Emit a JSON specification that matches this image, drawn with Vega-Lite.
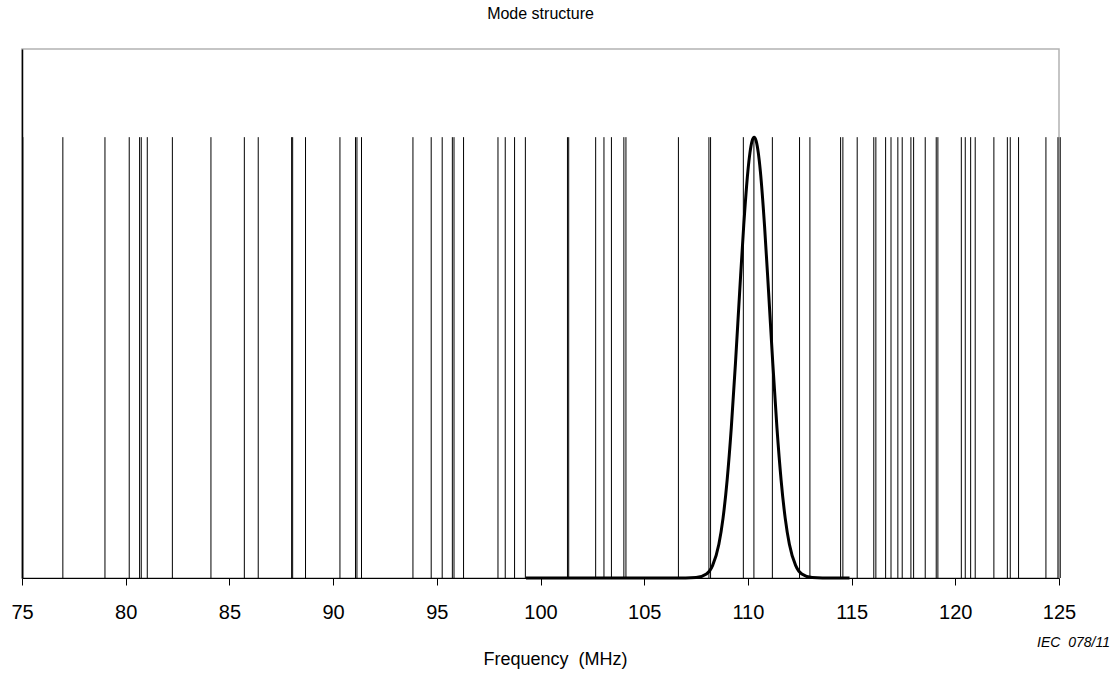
{
  "$schema": "https://vega.github.io/schema/vega-lite/v6.json",
  "width": 1037,
  "height": 529,
  "autosize": "none",
  "padding": {"left": 22, "top": 49, "right": 54, "bottom": 95},
  "background": "white",
  "title": {"text": "Mode structure", "fontSize": 16, "font": "Liberation Sans", "fontWeight": "normal", "color": "black", "offset": 27, "anchor": "middle"},
  "config": {
    "view": {"stroke": "#b3b3b3", "strokeWidth": 1.5},
    "font": "Liberation Sans"
  },
  "datasets": {
    "modes": [
      {"f": 75.04}, {"f": 76.97}, {"f": 79.0}, {"f": 80.17}, {"f": 80.67}, {"f": 80.75}, {"f": 81.04}, {"f": 82.25},
      {"f": 84.11}, {"f": 85.72}, {"f": 86.39}, {"f": 88.0}, {"f": 88.05}, {"f": 88.67}, {"f": 90.33}, {"f": 91.08},
      {"f": 91.15}, {"f": 91.37}, {"f": 93.85}, {"f": 94.73}, {"f": 95.26}, {"f": 95.75}, {"f": 95.83}, {"f": 96.29},
      {"f": 97.95}, {"f": 98.3}, {"f": 98.75}, {"f": 99.27}, {"f": 101.3}, {"f": 101.36}, {"f": 102.66}, {"f": 103.06},
      {"f": 103.42}, {"f": 104.02}, {"f": 104.12}, {"f": 106.65}, {"f": 108.12}, {"f": 108.2}, {"f": 109.78}, {"f": 110.29},
      {"f": 111.18}, {"f": 112.49}, {"f": 112.99}, {"f": 114.47}, {"f": 114.58}, {"f": 115.27}, {"f": 116.07}, {"f": 116.17},
      {"f": 116.64}, {"f": 116.9}, {"f": 117.23}, {"f": 117.44}, {"f": 117.86}, {"f": 117.99}, {"f": 118.55}, {"f": 119.08},
      {"f": 119.16}, {"f": 120.29}, {"f": 120.48}, {"f": 120.74}, {"f": 120.96}, {"f": 121.86}, {"f": 122.51}, {"f": 122.65},
      {"f": 123.05}, {"f": 124.37}, {"f": 124.95}, {"f": 125.06}
    ],
    "gain": [
      {"f": 99.3, "g": 0}, {"f": 103.0, "g": 0}, {"f": 105.0, "g": 0}, {"f": 107.0, "g": 0.0001}, {"f": 107.5, "g": 0.0009},
      {"f": 108.0, "g": 0.0091}, {"f": 108.3, "g": 0.0286}, {"f": 108.6, "g": 0.0766}, {"f": 108.8, "g": 0.1353},
      {"f": 109.0, "g": 0.2227}, {"f": 109.2, "g": 0.3411}, {"f": 109.4, "g": 0.4868}, {"f": 109.6, "g": 0.6469},
      {"f": 109.8, "g": 0.8007}, {"f": 110.0, "g": 0.9231}, {"f": 110.1, "g": 0.965}, {"f": 110.2, "g": 0.9912},
      {"f": 110.3, "g": 1.0}, {"f": 110.4, "g": 0.9912}, {"f": 110.5, "g": 0.965}, {"f": 110.6, "g": 0.9231},
      {"f": 110.8, "g": 0.8007}, {"f": 111.0, "g": 0.6469}, {"f": 111.2, "g": 0.4868}, {"f": 111.4, "g": 0.3411},
      {"f": 111.6, "g": 0.2227}, {"f": 111.8, "g": 0.1353}, {"f": 112.0, "g": 0.0766}, {"f": 112.3, "g": 0.0286},
      {"f": 112.6, "g": 0.0091}, {"f": 113.1, "g": 0.0009}, {"f": 113.6, "g": 0.0001}, {"f": 114.9, "g": 0}
    ],
    "note": [{"label": "IEC\u00a0\u00a0078/11"}]
  },
  "encoding": {
    "x": {
      "type": "quantitative",
      "scale": {"domain": [75, 125], "nice": false, "zero": false},
      "axis": {
        "title": "Frequency\u00a0\u00a0(MHz)",
        "values": [75, 80, 85, 90, 95, 100, 105, 110, 115, 120, 125],
        "grid": false,
        "domainColor": "black",
        "domainWidth": 1,
        "tickColor": "black",
        "tickSize": 7,
        "labelFontSize": 20,
        "labelColor": "black",
        "labelPadding": 17,
        "labelFont": "Liberation Sans",
        "labelFlush": false,
        "titleFontSize": 18,
        "titleFontWeight": "normal",
        "titleColor": "black",
        "titleFont": "Liberation Sans",
        "titlePadding": 28,
        "titleX": 533
      }
    }
  },
  "layer": [
    {
      "data": {"name": "modes"},
      "mark": {"type": "rule", "color": "black", "strokeWidth": 1},
      "encoding": {
        "x": {"field": "f", "type": "quantitative"},
        "y": {"datum": 0, "type": "quantitative", "scale": {"domain": [0, 1.2], "nice": false},
          "axis": {"title": null, "labels": false, "ticks": false, "grid": false, "domainColor": "black", "domainWidth": 1.5}},
        "y2": {"datum": 1}
      }
    },
    {
      "data": {"name": "gain"},
      "mark": {"type": "line", "color": "black", "strokeWidth": 3, "interpolate": "monotone"},
      "encoding": {
        "x": {"field": "f", "type": "quantitative"},
        "y": {"field": "g", "type": "quantitative"}
      }
    },
    {
      "data": {"name": "note"},
      "mark": {"type": "text", "align": "right", "baseline": "middle", "fontStyle": "italic", "fontSize": 14, "font": "Liberation Sans", "color": "black", "dx": 51, "dy": 65},
      "encoding": {
        "x": {"datum": 125, "type": "quantitative"},
        "y": {"datum": 0, "type": "quantitative"},
        "text": {"field": "label"}
      }
    }
  ]
}
